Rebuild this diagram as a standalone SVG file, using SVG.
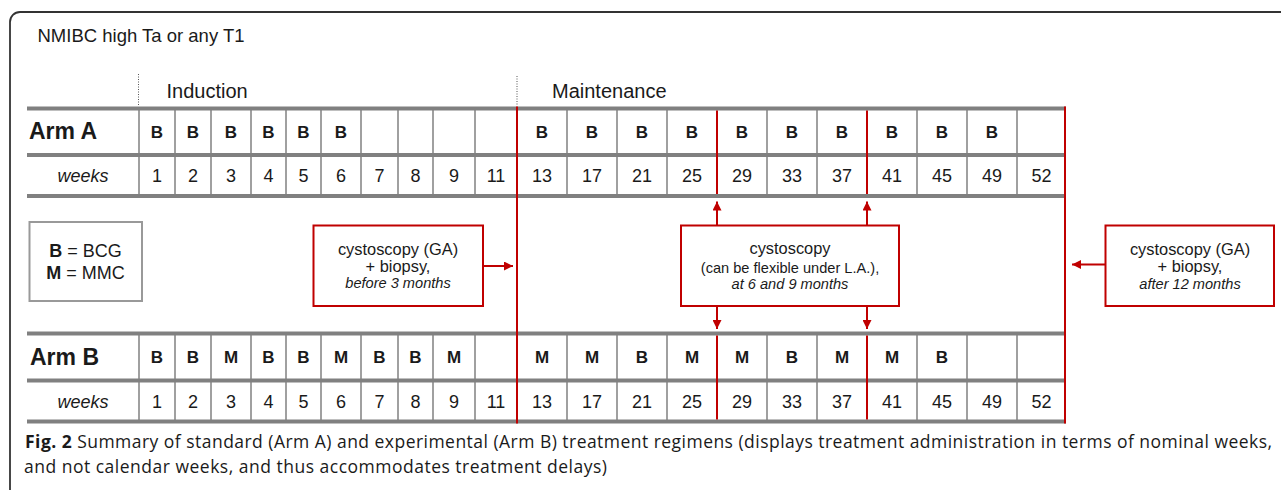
<svg xmlns="http://www.w3.org/2000/svg" width="1281" height="493" viewBox="0 0 1281 493">
<style>
text{font-family:"Liberation Sans",Arial,sans-serif;fill:#1a1a1a}
.hdr{font-size:20px}
.arm{font-size:23px;font-weight:bold}
.c{font-size:17px;font-weight:bold;text-anchor:middle}
.n{font-size:18px;text-anchor:middle}
.wk{font-size:18px;font-style:italic;text-anchor:middle}
.bx{font-size:16.4px;text-anchor:middle}
.bs{font-size:14.6px;text-anchor:middle}
.bi{font-size:14.6px;font-style:italic;text-anchor:middle}
.lg{font-size:18px;text-anchor:middle}
.cap{font-family:"Open Sans","Liberation Sans",sans-serif;font-size:17.5px}
.bar{fill:#808080}
.col{stroke:#a0a0a0;stroke-width:2}
.red{stroke:#c00000;stroke-width:2;fill:none}
.rbox{fill:#fff;stroke:#c00000;stroke-width:2}
.dot{stroke:#555;stroke-width:1;stroke-dasharray:1 1.5}
</style>
<defs>
<marker id="ah" viewBox="0 0 10 10" refX="10" refY="5" markerWidth="9" markerHeight="9" markerUnits="userSpaceOnUse" orient="auto">
<path d="M0,0 L10,5 L0,10 z" fill="#c00000"/>
</marker>
</defs>
<rect width="1281" height="493" fill="#fff"/>
<path d="M10,490 V22 A10,10 0 0 1 20,12 H1281" fill="none" stroke="#333" stroke-width="1.8"/>

<g id="title"><text x="37.5" y="42" font-size="18.5">NMIBC high Ta or any T1</text></g>

<g id="phases">
<line class="dot" x1="138.5" y1="74" x2="138.5" y2="106"/>
<line class="dot" x1="517" y1="76" x2="517" y2="106"/>
<text class="hdr" x="166.5" y="98">Induction</text>
<text class="hdr" x="552" y="98">Maintenance</text>
</g>

<g id="armA">
<g>
<line class="col" x1="139" y1="110" x2="139" y2="195"/>
<line class="col" x1="175" y1="110" x2="175" y2="195"/>
<line class="col" x1="211" y1="110" x2="211" y2="195"/>
<line class="col" x1="251" y1="110" x2="251" y2="195"/>
<line class="col" x1="286" y1="110" x2="286" y2="195"/>
<line class="col" x1="321" y1="110" x2="321" y2="195"/>
<line class="col" x1="361" y1="110" x2="361" y2="195"/>
<line class="col" x1="398" y1="110" x2="398" y2="195"/>
<line class="col" x1="433" y1="110" x2="433" y2="195"/>
<line class="col" x1="475" y1="110" x2="475" y2="195"/>
<line class="col" x1="567" y1="110" x2="567" y2="195"/>
<line class="col" x1="617" y1="110" x2="617" y2="195"/>
<line class="col" x1="667" y1="110" x2="667" y2="195"/>
<line class="col" x1="767" y1="110" x2="767" y2="195"/>
<line class="col" x1="817" y1="110" x2="817" y2="195"/>
<line class="col" x1="917" y1="110" x2="917" y2="195"/>
<line class="col" x1="967" y1="110" x2="967" y2="195"/>
<line class="col" x1="1017" y1="110" x2="1017" y2="195"/>
</g>
<rect class="bar" x="27" y="106.5" width="1039" height="4"/>
<rect class="bar" x="27" y="153" width="1039" height="4"/>
<rect class="bar" x="27" y="194" width="1039" height="4"/>
<line class="red" x1="717" y1="110.5" x2="717" y2="194"/>
<line class="red" x1="867" y1="110.5" x2="867" y2="194"/>
<text class="arm" x="29" y="139">Arm A</text>
<text class="c" y="137.5"><tspan x="157">B</tspan><tspan x="193">B</tspan><tspan x="231">B</tspan><tspan x="268.5">B</tspan><tspan x="303.5">B</tspan><tspan x="341">B</tspan><tspan x="542">B</tspan><tspan x="592">B</tspan><tspan x="642">B</tspan><tspan x="692">B</tspan><tspan x="742">B</tspan><tspan x="792">B</tspan><tspan x="842">B</tspan><tspan x="892">B</tspan><tspan x="942">B</tspan><tspan x="992">B</tspan></text>
<text class="wk" x="83" y="182">weeks</text>
<text class="n" y="182"><tspan x="157">1</tspan><tspan x="193">2</tspan><tspan x="231">3</tspan><tspan x="268.5">4</tspan><tspan x="303.5">5</tspan><tspan x="341">6</tspan><tspan x="379.5">7</tspan><tspan x="415.5">8</tspan><tspan x="454">9</tspan><tspan x="496">11</tspan><tspan x="542">13</tspan><tspan x="592">17</tspan><tspan x="642">21</tspan><tspan x="692">25</tspan><tspan x="742">29</tspan><tspan x="792">33</tspan><tspan x="842">37</tspan><tspan x="892">41</tspan><tspan x="942">45</tspan><tspan x="992">49</tspan><tspan x="1041.5">52</tspan></text>
</g>

<g id="armB">
<g>
<line class="col" x1="139" y1="335" x2="139" y2="420"/>
<line class="col" x1="175" y1="335" x2="175" y2="420"/>
<line class="col" x1="211" y1="335" x2="211" y2="420"/>
<line class="col" x1="251" y1="335" x2="251" y2="420"/>
<line class="col" x1="286" y1="335" x2="286" y2="420"/>
<line class="col" x1="321" y1="335" x2="321" y2="420"/>
<line class="col" x1="361" y1="335" x2="361" y2="420"/>
<line class="col" x1="398" y1="335" x2="398" y2="420"/>
<line class="col" x1="433" y1="335" x2="433" y2="420"/>
<line class="col" x1="475" y1="335" x2="475" y2="420"/>
<line class="col" x1="567" y1="335" x2="567" y2="420"/>
<line class="col" x1="617" y1="335" x2="617" y2="420"/>
<line class="col" x1="667" y1="335" x2="667" y2="420"/>
<line class="col" x1="767" y1="335" x2="767" y2="420"/>
<line class="col" x1="817" y1="335" x2="817" y2="420"/>
<line class="col" x1="917" y1="335" x2="917" y2="420"/>
<line class="col" x1="967" y1="335" x2="967" y2="420"/>
<line class="col" x1="1017" y1="335" x2="1017" y2="420"/>
</g>
<rect class="bar" x="27" y="331.5" width="1039" height="4"/>
<rect class="bar" x="27" y="378.5" width="1039" height="4"/>
<rect class="bar" x="27" y="419.5" width="1039" height="4"/>
<line class="red" x1="717" y1="335.5" x2="717" y2="419.5"/>
<line class="red" x1="867" y1="335.5" x2="867" y2="419.5"/>
<text class="arm" x="30" y="364.5">Arm B</text>
<text class="c" y="363"><tspan x="157">B</tspan><tspan x="193">B</tspan><tspan x="231">M</tspan><tspan x="268.5">B</tspan><tspan x="303.5">B</tspan><tspan x="341">M</tspan><tspan x="379.5">B</tspan><tspan x="415.5">B</tspan><tspan x="454">M</tspan><tspan x="542">M</tspan><tspan x="592">M</tspan><tspan x="642">B</tspan><tspan x="692">M</tspan><tspan x="742">M</tspan><tspan x="792">B</tspan><tspan x="842">M</tspan><tspan x="892">M</tspan><tspan x="942">B</tspan></text>
<text class="wk" x="83" y="407.5">weeks</text>
<text class="n" y="407.5"><tspan x="157">1</tspan><tspan x="193">2</tspan><tspan x="231">3</tspan><tspan x="268.5">4</tspan><tspan x="303.5">5</tspan><tspan x="341">6</tspan><tspan x="379.5">7</tspan><tspan x="415.5">8</tspan><tspan x="454">9</tspan><tspan x="496">11</tspan><tspan x="542">13</tspan><tspan x="592">17</tspan><tspan x="642">21</tspan><tspan x="692">25</tspan><tspan x="742">29</tspan><tspan x="792">33</tspan><tspan x="842">37</tspan><tspan x="892">41</tspan><tspan x="942">45</tspan><tspan x="992">49</tspan><tspan x="1041.5">52</tspan></text>
</g>

<g id="milestones">
<line class="red" x1="517" y1="106.5" x2="517" y2="423.5"/>
<line class="red" x1="1065" y1="106.5" x2="1065" y2="423.5"/>
</g>

<g id="legend">
<rect x="29.5" y="222" width="112.5" height="79" fill="#fff" stroke="#999" stroke-width="2"/>
<text class="lg" x="85.5" y="257"><tspan font-weight="bold">B</tspan> = BCG</text>
<text class="lg" x="85.5" y="279"><tspan font-weight="bold">M</tspan> = MMC</text>
</g>

<g id="box-before3">
<rect class="rbox" x="313.5" y="225.5" width="169.5" height="80.5"/>
<text class="bx" x="398" y="255">cystoscopy (GA)</text>
<text class="bx" x="398" y="272">+ biopsy,</text>
<text class="bi" x="398" y="288">before 3 months</text>
</g>

<g id="box-6-9">
<rect class="rbox" x="681" y="225.5" width="218" height="80.5"/>
<text class="bx" x="790" y="254">cystoscopy</text>
<text class="bs" x="790" y="273">(can be flexible under L.A.),</text>
<text class="bi" x="790" y="288.5">at 6 and 9 months</text>
</g>

<g id="box-after12">
<rect class="rbox" x="1105.5" y="225.5" width="168.5" height="80.5"/>
<text class="bx" x="1190" y="255">cystoscopy (GA)</text>
<text class="bx" x="1190" y="272">+ biopsy,</text>
<text class="bi" x="1190" y="288.5">after 12 months</text>
</g>

<g id="connectors">
<line class="red" x1="483" y1="266" x2="513" y2="266" marker-end="url(#ah)"/>
<line class="red" x1="1105" y1="264.5" x2="1072" y2="264.5" marker-end="url(#ah)"/>
<line class="red" x1="717" y1="225" x2="717" y2="201.5" marker-end="url(#ah)"/>
<line class="red" x1="867" y1="225" x2="867" y2="201.5" marker-end="url(#ah)"/>
<line class="red" x1="717" y1="306" x2="717" y2="329" marker-end="url(#ah)"/>
<line class="red" x1="867" y1="306" x2="867" y2="329" marker-end="url(#ah)"/>
</g>

<g id="caption">
<text class="cap" x="25" y="448" textLength="1247"><tspan font-weight="bold">Fig. 2</tspan> Summary of standard (Arm A) and experimental (Arm B) treatment regimens (displays treatment administration in terms of nominal weeks,</text>
<text class="cap" x="24" y="473" textLength="583">and not calendar weeks, and thus accommodates treatment delays)</text>
</g>
</svg>
